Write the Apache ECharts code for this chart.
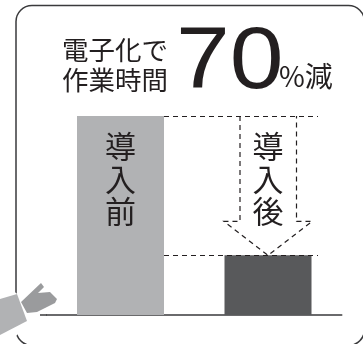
<!DOCTYPE html>
<html>
<head>
<meta charset="utf-8">
<style>html,body{margin:0;padding:0;background:#fff}#c{width:363px;height:344px}</style>
<script src="https://cdn.jsdelivr.net/npm/echarts@6/dist/echarts.min.js"></script>
</head>
<body>
<div id="c"></div>
<script>
// 導入前後の作業時間(導入前を100とする)
const categories = ['導入前', '導入後'];
const hours = [100, 30];
const barColors = ['#b1b2b4', '#58595b'];
const headline = ['電子化で', '作業時間'];
const bigNumber = '70';
const unit = '%減';

const jp = '"Noto Sans CJK JP", sans-serif';
const ink = '#231f20';
const chart = echarts.init(document.getElementById('c'), null, { renderer: 'canvas' });

// 矢印の輪郭: x はカテゴリ位置からのピクセル差、y は値
const arrowOutline = [
  [-28, hours[0]], [-28, 47], [-44, 47], [0, hours[1]],
  [44, 47], [28.5, 47], [28.5, hours[0]]
];

chart.setOption({
  animation: false,
  grid: { left: 46.75, top: 116, width: 295, height: 199 },
  xAxis: {
    type: 'category', data: categories,
    axisLine: { lineStyle: { color: '#3a3a3c', width: 1.5 } },
    axisTick: { show: false }, axisLabel: { show: false }
  },
  yAxis: { type: 'value', min: 0, max: 100, show: false, splitLine: { show: false } },
  series: [
    {
      type: 'bar', barWidth: 87, z: 2,
      data: hours.map((v, i) => ({ value: v, itemStyle: { color: barColors[i] } })),
      label: {
        show: true, position: 'insideTop', distance: 14,
        fontFamily: jp, fontSize: 31, lineHeight: 32.5, color: ink,
        formatter: p => p.dataIndex === 0 ? p.name.split('').join('\n') : ''
      },
      markLine: {
        silent: true, symbol: 'none', label: { show: false },
        lineStyle: { color: ink, type: [5, 4], width: 1.2 },
        data: hours.map(v => [
          { xAxis: 0, yAxis: v, x: 164 },
          { xAxis: 1, yAxis: v, x: 318 }
        ])
      }
    },
    {
      type: 'custom', z: 4, coordinateSystem: 'cartesian2d',
      data: [[1, hours[0]]],
      encode: { x: 0, y: 1 },
      renderItem: (params, api) => {
        const cx = api.coord([1, 0])[0];
        const points = arrowOutline.map(p => [cx + p[0], api.coord([1, p[1]])[1]]);
        return {
          type: 'group',
          children: [
            {
              type: 'polyline', shape: { points },
              style: { fill: null, stroke: ink, lineWidth: 1.2, lineDash: [5, 4] }
            },
            {
              type: 'text',
              style: {
                x: cx, y: api.coord([1, 100])[1] + 14,
                text: categories[1].split('').join('\n'),
                fontFamily: jp, fontSize: 31, lineHeight: 32.5,
                fill: ink, align: 'center', verticalAlign: 'top'
              }
            }
          ]
        };
      }
    }
  ],
  graphic: [
    { type: 'rect', z: 0, shape: { x: 16, y: 5.5, width: 348.5, height: 340, r: 16 },
      style: { fill: '#fff', stroke: '#3a3a3c', lineWidth: 1.5 } },
    { type: 'line', z: 1, shape: { x1: 40, y1: 315, x2: 47, y2: 315 },
      style: { stroke: '#3a3a3c', lineWidth: 1.5 } },
    { type: 'text', z: 5, style: { x: 62, y: 35, text: headline.join('\n'),
      fontFamily: jp, fontSize: 26.5, lineHeight: 30, fill: ink } },
    { type: 'text', z: 5, x: 176, y: 20, scaleX: 1.1, style: { x: 0, y: 0, text: bigNumber,
      fontFamily: '"Liberation Sans", sans-serif', fontSize: 88, fill: ink } },
    { type: 'text', z: 5, style: { x: 279, y: 62, text: unit,
      fontFamily: jp, fontSize: 28, fill: ink } },
    // 指さしの手
    { type: 'polygon', z: 6, shape: { points: [[20,296],[30,322],[12,340],[12,290]] },
      style: { fill: '#fff' } },
    { type: 'polygon', z: 7, shape: { points: [[0,299],[17,294],[27,321],[0,335]] },
      style: { fill: '#b1b2b4' } },
    { type: 'polygon', z: 7, shape: { points: [[21,302],[41,283],[44,287],[38,293],[50,292],[57,299],[55,303],[47,307],[37,312],[27,313]] },
      style: { fill: '#9a9b9d' } }
  ]
});
</script>
</body>
</html>
